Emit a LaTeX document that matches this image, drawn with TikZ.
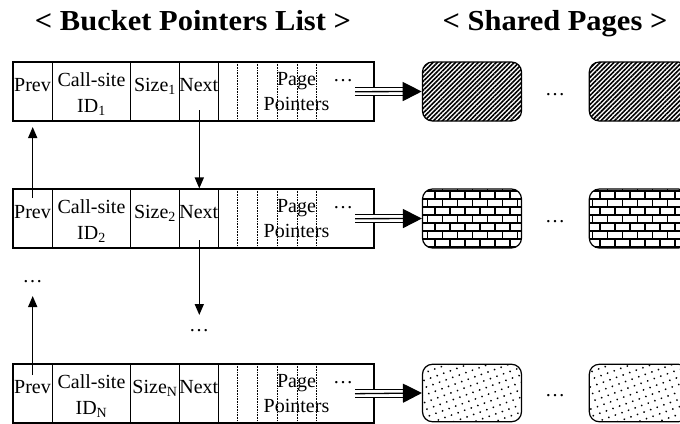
\documentclass[tikz,border=0pt]{standalone}
\usepackage{fontspec}
\setmainfont{Liberation Serif}
\usetikzlibrary{arrows.meta, patterns, patterns.meta}

% brick fill for the second row of pages
\pgfdeclarepatternformonly{thickbricks}{\pgfqpoint{-1pt}{-1pt}}{\pgfqpoint{16pt}{17pt}}{\pgfqpoint{15pt}{16pt}}{%
  \pgfsetlinewidth{1.4pt}%
  \pgfpathmoveto{\pgfqpoint{0pt}{0pt}}\pgfpathlineto{\pgfqpoint{15pt}{0pt}}%
  \pgfpathmoveto{\pgfqpoint{0pt}{8pt}}\pgfpathlineto{\pgfqpoint{15pt}{8pt}}%
  \pgfpathmoveto{\pgfqpoint{0pt}{0pt}}\pgfpathlineto{\pgfqpoint{0pt}{8pt}}%
  \pgfpathmoveto{\pgfqpoint{7.5pt}{8pt}}\pgfpathlineto{\pgfqpoint{7.5pt}{16pt}}%
  \pgfusepath{stroke}}

\tikzset{
  heading/.style={inner sep=0pt, anchor=base, font=\fontsize{30.5}{36}\selectfont\bfseries},
  bucket/.style={draw, line width=1.1pt, inner sep=0pt, minimum width=361pt, minimum height=59pt},
  slot/.style={line width=1.1pt},
  ptrslot/.style={densely dotted, line width=0.6pt},
  lbl/.style={inner sep=0pt, anchor=base, font=\fontsize{20}{24}\selectfont},
  sharedpg/.style={draw, line width=1.2pt, rounded corners=10pt, inner sep=0pt, minimum width=99pt, minimum height=59pt},
  link/.style={-{Triangle[length=11pt, width=9pt]}, line width=1.5pt},
}

\begin{document}
\begin{tikzpicture}[x=1pt, y=-1pt]
  \useasboundingbox (0,0) rectangle (680,423);
  \clip (0,0) rectangle (680,423);
  % Titles
  \node[heading] (ttlB) at (193,30) {\scalebox{1}[0.95]{< Bucket Pointers List >}};
  \node[heading] (ttlS) at (555,30) {\scalebox{1}[0.95]{< Shared Pages >}};
  % Bucket rows
  \foreach \r/\ry/\k in {1/62/1, 2/189/2, 3/364/N} {
    \node[bucket] (bkt\r) at (193.5,\ry+29.5) {};
    \foreach \x in {52.3,130.7,179.3,218.3}
      \draw[slot] (\x,\ry) -- (\x,\ry+59);
    \foreach \x in {237.3,257.3,277.3,297.3,316.7}
      \draw[ptrslot] (\x,\ry) -- (\x,\ry+59);
    \node[lbl] (prev\r) at (32.5,\ry+29) {Prev};
    \node[lbl] (call\r) at (91.5,\ry+24) {Call-site};
    \node[lbl] (id\r) at (91.5,\ry+50.7) {ID\textsubscript{\k}};
    \node[lbl] (size\r) at (155,\ry+29) {Size\textsubscript{\k}};
    \node[lbl] (next\r) at (198.8,\ry+29) {Next};
    \node[lbl] (page\r) at (296.5,\ry+23) {Page};
    \node[lbl] (ptrs\r) at (296.5,\ry+48) {Pointers};
    \node[lbl] (more\r) at (343,\ry+19.5) {\dots};
    % pointer to the shared pages
    \coordinate (fd\r) at (355,\ry+29.7);
  }
  % Shared pages
  \node[sharedpg, pattern={Lines[angle=45, distance=3.2pt, line width=1.6pt]}] (sp1a) at (472,91.5) {};
  \node[sharedpg, pattern={Lines[angle=45, distance=3.2pt, line width=1.6pt]}] (sp1b) at (638.8,91.5) {};
  \node[sharedpg, pattern=thickbricks] (sp2a) at (472,218.5) {};
  \node[sharedpg, pattern=thickbricks] (sp2b) at (638.8,218.5) {};
  \node[sharedpg, minimum height=57.5pt, pattern={Dots[distance=7pt, radius=1pt, angle=20]}] (sp3a) at (472,393) {};
  \node[sharedpg, minimum height=57.5pt, pattern={Dots[distance=7pt, radius=1pt, angle=20]}] (sp3b) at (638.8,393) {};
  \node[lbl] (gap1) at (555,95) {\dots};
  \node[lbl] (gap2) at (555,222) {\dots};
  \node[lbl] (gap3) at (555,396.5) {\dots};
  % Triple-line pointers
  \foreach \r in {1,2,3} {
    \draw[line width=1.3pt, double distance=6.6pt] (fd\r) -- ++(49,0);
    \draw[line width=1.3pt, -{Triangle[length=19pt, width=19pt]}] (fd\r) -- (sp\r a.west);
  }
  % Prev / Next links
  \coordinate (pvtail2) at (32.7,198);
  \coordinate (pvtip1) at (32.7,127);
  \draw[link] (pvtail2) -- (pvtip1);
  \node[lbl] (vgapL) at (32.5,282) {\dots};
  \coordinate (pvtail3) at (32.7,375);
  \coordinate (pvtip2) at (32.7,296);
  \draw[link] (pvtail3) -- (pvtip2);
  \coordinate (nxtail1) at (199.3,110);
  \draw[link] (nxtail1) -- (nxtail1 |- bkt2.north);
  \coordinate (nxtail2) at (199.3,240);
  \coordinate (nxtip2) at (199.3,315);
  \draw[link] (nxtail2) -- (nxtip2);
  \node[lbl] (vgapR) at (199,331) {\dots};
\end{tikzpicture}
\end{document}
